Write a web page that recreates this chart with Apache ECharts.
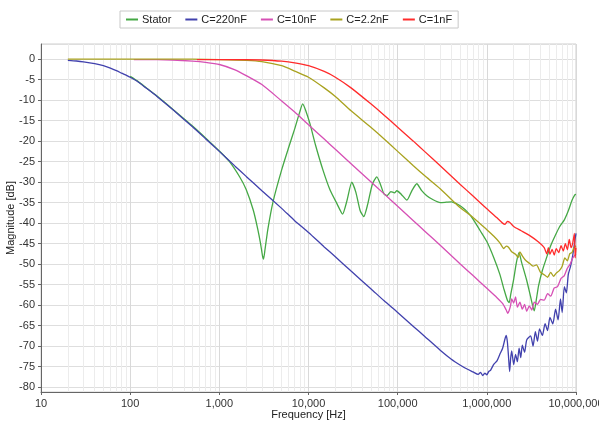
<!DOCTYPE html>
<html>
<head>
<meta charset="utf-8">
<script src="https://cdn.jsdelivr.net/npm/echarts@6/dist/echarts.min.js"></script>
<style>
html,body{margin:0;padding:0;background:#fff;}
#main{width:599px;height:421px;}
</style>
</head>
<body>
<div id="main"></div>
<script>
// frequency [Hz], magnitude [dB]
var stator = [[100,-4.2],[120,-5.3],[150,-6.9],[200,-9.0],[300,-12.2],[500,-16.3],[700,-19.2],[1000,-22.4],[1300,-25.0],[1700,-28.8],[2000,-31.8],[2400,-36.8],[2700,-41.5],[2900,-45.0],[3050,-48.0],[3130,-48.8],[3250,-46.5],[3500,-41.5],[4000,-34.8],[5000,-27.0],[6000,-21.5],[7000,-17.0],[8000,-12.8],[8600,-10.9],[9300,-12.5],[10400,-15.8],[12000,-21.0],[14600,-27.2],[17500,-32.0],[20900,-35.3],[24100,-37.8],[27000,-34.5],[30600,-30.0],[34000,-32.5],[38000,-37.0],[41700,-38.4],[46000,-35.5],[52000,-30.5],[58400,-28.7],[64000,-30.5],[70000,-32.8],[76000,-33.3],[84000,-32.3],[92000,-32.6],[98000,-32.1],[110000,-33.0],[127000,-34.4],[145000,-32.0],[164000,-30.4],[185000,-32.0],[212000,-33.3],[250000,-34.3],[300000,-35.0],[350000,-34.9],[400000,-34.8],[450000,-35.2],[520000,-36.0],[600000,-37.2],[700000,-39.0],[840000,-41.8],[1000000,-44.5],[1200000,-48.5],[1400000,-52.5],[1560000,-56.2],[1700000,-58.8],[1780000,-59.4],[1850000,-57.5],[2000000,-53.7],[2150000,-49.5],[2300000,-47.2],[2450000,-49.5],[2780000,-53.7],[3100000,-58.0],[3400000,-61.4],[3600000,-58.5],[3800000,-55.3],[4200000,-51.5],[4600000,-48.9],[5200000,-45.5],[5800000,-43.2],[6500000,-41.0],[7400000,-39.2],[8200000,-37.0],[9000000,-34.5],[9700000,-33.1],[10000000,-33.0]];
var c220 = [[20,-0.3],[25,-0.45],[30,-0.65],[40,-1.1],[50,-1.6],[60,-2.2],[70,-2.8],[80,-3.4],[100,-4.4],[120,-5.4],[150,-7.0],[200,-9.1],[300,-12.3],[500,-16.5],[700,-19.4],[1000,-22.5],[1500,-26.1],[2000,-28.6],[3000,-32.1],[5000,-36.4],[7000,-39.4],[10000,-42.3],[15000,-45.8],[20000,-48.2],[30000,-51.7],[50000,-56.0],[70000,-58.9],[100000,-61.8],[150000,-65.2],[200000,-67.6],[300000,-71.0],[400000,-73.2],[500000,-74.6],[600000,-75.6],[700000,-76.3],[800000,-76.9],[850000,-76.4],[900000,-77.2],[950000,-76.6],[1000000,-77.0],[1050000,-76.2],[1100000,-75.9],[1200000,-74.4],[1300000,-73.6],[1400000,-72.0],[1500000,-70.6],[1600000,-68.2],[1650000,-67.4],[1700000,-69.0],[1750000,-72.5],[1800000,-76.2],[1850000,-73.0],[1900000,-71.2],[2000000,-74.5],[2100000,-72.0],[2200000,-73.8],[2300000,-70.5],[2400000,-72.8],[2500000,-69.8],[2650000,-71.5],[2800000,-68.5],[3100000,-67.5],[3300000,-70.0],[3500000,-66.5],[3700000,-68.8],[3900000,-65.8],[4200000,-67.4],[4500000,-64.5],[4800000,-66.2],[5100000,-63.0],[5500000,-64.6],[5900000,-61.0],[6300000,-63.6],[6700000,-58.5],[7000000,-61.8],[7400000,-55.5],[7800000,-57.0],[8200000,-52.5],[8700000,-50.5],[9200000,-47.8],[9600000,-45.0],[10000000,-42.5]];
var c10 = [[110,-0.1],[200,-0.1],[300,-0.2],[500,-0.5],[700,-0.8],[1000,-1.3],[1500,-2.6],[2000,-4.0],[3000,-6.2],[5000,-10.2],[7000,-12.9],[10000,-16.0],[15000,-19.5],[20000,-22.0],[30000,-25.5],[50000,-29.9],[70000,-32.8],[100000,-35.9],[150000,-39.4],[200000,-41.9],[300000,-45.4],[500000,-49.9],[700000,-52.8],[1000000,-55.9],[1300000,-58.2],[1500000,-59.6],[1650000,-61.2],[1720000,-62.0],[1780000,-61.3],[1850000,-60.0],[1900000,-58.5],[2000000,-59.5],[2100000,-58.0],[2200000,-60.5],[2350000,-59.3],[2500000,-61.0],[2650000,-59.8],[2800000,-61.5],[3000000,-60.2],[3200000,-61.2],[3400000,-59.3],[3700000,-59.8],[4000000,-58.6],[4400000,-58.8],[4800000,-57.2],[5200000,-57.8],[5700000,-55.8],[6200000,-55.5],[6800000,-53.5],[7400000,-52.8],[8000000,-51.0],[8600000,-50.0],[9200000,-48.5],[10000000,-47.5]];
var c2_2 = [[20,0],[100,0],[500,0],[1000,-0.1],[2000,-0.3],[3000,-0.6],[5000,-1.6],[7000,-2.9],[10000,-4.4],[15000,-7.0],[20000,-9.1],[30000,-12.6],[50000,-16.6],[70000,-19.4],[100000,-22.5],[150000,-26.0],[200000,-28.4],[300000,-31.6],[500000,-36.2],[700000,-38.6],[1000000,-41.6],[1200000,-43.2],[1400000,-44.8],[1550000,-46.2],[1650000,-45.6],[1750000,-45.9],[1900000,-47.0],[2100000,-47.6],[2250000,-48.4],[2350000,-47.0],[2500000,-48.0],[2700000,-49.0],[3000000,-49.8],[3300000,-50.5],[3600000,-50.2],[4000000,-52.0],[4400000,-52.6],[4800000,-53.2],[5200000,-52.0],[5600000,-53.0],[6000000,-52.2],[6500000,-51.6],[7000000,-50.5],[7500000,-48.5],[8000000,-49.2],[8500000,-47.5],[9000000,-47.2],[9500000,-46.0],[10000000,-45.5]];
var c1 = [[560,-0.1],[1000,-0.1],[2000,-0.1],[3000,-0.2],[5000,-0.5],[7000,-0.9],[10000,-1.6],[15000,-3.0],[20000,-4.4],[30000,-7.0],[50000,-10.9],[70000,-13.6],[100000,-16.6],[150000,-20.0],[200000,-22.5],[300000,-26.0],[500000,-30.5],[700000,-33.4],[1000000,-36.5],[1300000,-38.7],[1500000,-40.0],[1600000,-40.3],[1700000,-39.6],[1800000,-39.8],[2000000,-40.8],[2400000,-41.8],[3000000,-43.0],[3800000,-44.6],[4400000,-46.0],[4700000,-47.5],[4900000,-46.0],[5100000,-47.6],[5400000,-46.4],[5700000,-47.8],[6000000,-46.2],[6400000,-47.2],[6800000,-45.5],[7200000,-46.8],[7600000,-45.0],[8000000,-46.5],[8400000,-44.0],[8800000,-46.0],[9200000,-44.8],[9600000,-42.5],[9800000,-48.5],[10000000,-46.0]];

var names = ['Stator','C=220nF','C=10nF','C=2.2nF','C=1nF'];
var colors = ['#45a845','#4141ad','#d650b5','#a9a21f','#ff2b2b'];
var seriesData = [stator, c220, c10, c2_2, c1];

// minor grid positions 2..9 of each decade
var minorX = [];
for (var d = 10; d < 1e7; d *= 10) {
    for (var m = 2; m <= 9; m++) minorX.push({xAxis: d * m});
}

var chart = echarts.init(document.getElementById('main'));
var series = [{
    name: 'minor',
    type: 'line',
    data: [],
    silent: true,
    z: 1,
    markLine: {
        silent: true,
        z: 1,
        symbol: 'none',
        label: {show: false},
        animation: false,
        lineStyle: {color: '#ececec', type: 'solid', width: 1},
        data: minorX
    }
}];
for (var i = 0; i < names.length; i++) {
    series.push({
        name: names[i],
        type: 'line',
        data: seriesData[i],
        showSymbol: false,
        smooth: 0.2,
        z: 3,
        lineStyle: {width: 1.3, color: colors[i]},
        itemStyle: {color: colors[i]}
    });
}

chart.setOption({
    animation: false,
    textStyle: {fontFamily: 'Liberation Sans'},
    legend: {
        data: names,
        left: 120,
        top: 11,
        padding: [3, 6],
        itemGap: 14,
        itemWidth: 12,
        itemHeight: 2,
        icon: 'rect',
        borderColor: '#c8c8c8',
        borderWidth: 1,
        textStyle: {fontSize: 11, color: '#222', padding: [0, 0, 0, -1]}
    },
    grid: {
        left: 41, right: 23, top: 44, bottom: 29,
        outerBoundsMode: 'none',
        containLabel: false,
        show: true,
        borderColor: '#cfcfcf',
        borderWidth: 1
    },
    xAxis: {
        type: 'log',
        logBase: 10,
        min: 10,
        max: 10000000,
        splitNumber: 6,
        name: 'Frequency [Hz]',
        nameLocation: 'middle',
        nameGap: 17,
        nameMoveOverlap: false,
        nameTextStyle: {fontSize: 11, color: '#222'},
        axisLine: {onZero: false, lineStyle: {color: '#666'}},
        axisTick: {show: true, length: 3, lineStyle: {color: '#666'}},
        axisLabel: {
            fontSize: 11, color: '#333', margin: 6,
            formatter: function (v) { return Number(v).toLocaleString('en-US'); }
        },
        splitLine: {show: true, lineStyle: {color: '#d9d9d9'}}
    },
    yAxis: {
        type: 'value',
        min: -81.2,
        max: 3.7,
        splitNumber: 17,
        name: 'Magnitude [dB]',
        nameLocation: 'middle',
        nameGap: 25,
        nameMoveOverlap: false,
        nameTextStyle: {fontSize: 11, color: '#222'},
        axisLine: {show: true, onZero: false, lineStyle: {color: '#666'}},
        axisTick: {show: true, length: 3, lineStyle: {color: '#666'}},
        axisLabel: {
            fontSize: 11, color: '#333', margin: 6,
            showMinLabel: false, showMaxLabel: false,
            formatter: function (v) { return Math.abs(v % 5) < 1e-6 ? String(v) : ''; }
        },
        splitLine: {show: true, lineStyle: {color: '#dedede'}}
    },
    series: series
});
</script>
</body>
</html>
